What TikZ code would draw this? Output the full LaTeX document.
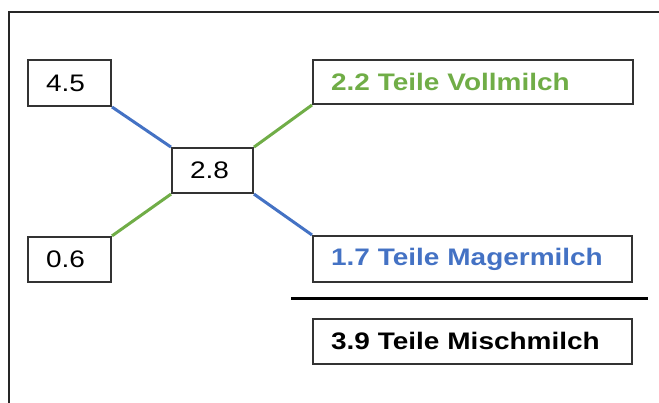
\documentclass[tikz,border=0pt]{standalone}
\usepackage{fontspec}
\setmainfont{Liberation Sans}[FakeStretch=1.17]
\definecolor{mblue}{RGB}{68,114,196}
\definecolor{mgreen}{RGB}{112,173,71}

\begin{document}
\begin{tikzpicture}[
  feld/.style={draw=black!80,line width=0.5mm,anchor=west,inner xsep=4.5mm,inner ysep=0,align=left,font=\fontsize{17}{20}\selectfont},
  blauline/.style={mblue,line width=0.75mm},
  gruenline/.style={mgreen,line width=0.75mm}]
\useasboundingbox (0,0) rectangle(164.75mm,100.75mm);
\draw[line width=0.4mm,black!85] (2.25mm,0) -- (2.25mm,97.75mm) -- (164.75mm,97.75mm);
\node[feld,text width=11.75mm,minimum height=11.5mm] (n45) at(6.75mm,80mm) {4.5};
\node[feld,text width=11.75mm,minimum height=11.25mm] (n06) at(6.75mm,35.9mm) {0.6};
\node[feld,text width=11.25mm,minimum height=11.25mm] (n28) at(42.75mm,58.1mm) {2.8};
\node[feld,text width=71mm,minimum height=11mm,text=mgreen] (voll) at(78mm,80.25mm) {\textbf{2.2 Teile Vollmilch}};
\node[feld,text width=70.75mm,minimum height=11.5mm,text=mblue] (mager) at(78mm,36mm) {\textbf{1.7 Teile Magermilch}};
\node[feld,text width=70.75mm,minimum height=11.25mm] (misch) at(78mm,15.4mm) {\textbf{3.9 Teile Mischmilch}};
\draw[blauline] (n45.south east) -- (n28.north west);
\draw[gruenline] (n06.north east) -- (n28.south west);
\draw[gruenline] (n28.north east) -- (voll.south west);
\draw[blauline] (n28.south east) -- (mager.north west);
\coordinate (strichA) at(72.75mm,26mm);
\coordinate (strichB) at(162mm,26mm);
\draw[line width=0.75mm] (strichA) -- (strichB);
\end{tikzpicture}
\end{document}
